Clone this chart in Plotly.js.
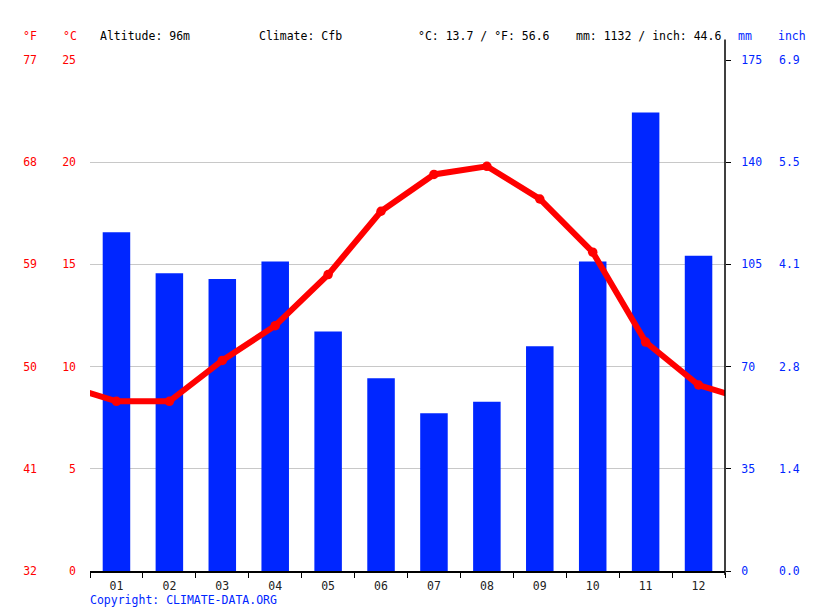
<!DOCTYPE html>
<html>
<head>
<meta charset="utf-8">
<script src="https://cdn.plot.ly/plotly-3.0.1.min.js"></script>
<style>
  body { margin: 0; background: #fff; }
  #chart { width: 815px; height: 611px; }
</style>
</head>
<body>
<div id="chart"></div>
<script>
// monthly climate data
let months = ["01", "02", "03", "04", "05", "06", "07", "08", "09", "10", "11", "12"];
let monthNums = [1, 2, 3, 4, 5, 6, 7, 8, 9, 10, 11, 12];
let rainMm = [116, 102, 100, 106, 82, 66, 54, 58, 77, 106, 157, 108];
let tempC = [8.3, 8.3, 10.3, 12.0, 14.5, 17.6, 19.4, 19.8, 18.2, 15.6, 11.2, 9.1];

let cTicks = [0, 5, 10, 15, 20, 25];
let fTicks = [32, 41, 50, 59, 68, 77];
let mmTicks = [0, 35, 70, 105, 140, 175];
let inchLabels = ["0.0", "1.4", "2.8", "4.1", "5.5", "6.9"];

let red = "#ff0000";
let blue = "#0026ff";
let mono = "DejaVu Sans Mono, monospace";

// wrap Dec before Jan and Jan after Dec so the line runs to both edges
let lineX = [0].concat(monthNums, [13]);
let lineY = [tempC[11]].concat(tempC, [tempC[0]]);

let bars = {
    x: monthNums,
    y: rainMm,
    type: "bar",
    width: 0.52,
    marker: {color: blue},
    xaxis: "x",
    yaxis: "y",
    hoverinfo: "skip"
};

let temp = {
    x: lineX,
    y: lineY,
    type: "scatter",
    mode: "lines+markers",
    line: {color: red, width: 6},
    marker: {color: red, size: 9.5},
    xaxis: "x",
    yaxis: "y2",
    cliponaxis: true,
    hoverinfo: "skip"
};

// dummy traces so the extra axes get drawn
let fDummy = {x: [1], y: [32], yaxis: "y3", xaxis: "x", mode: "markers", marker: {opacity: 0}, hoverinfo: "skip"};
let inDummy = {x: [1], y: [0], yaxis: "y4", xaxis: "x", mode: "markers", marker: {opacity: 0}, hoverinfo: "skip"};

let tickFont = {family: mono, size: 11.5};

let layout = {
    width: 815,
    height: 611,
    margin: {l: 90, r: 90, t: 60, b: 40},
    paper_bgcolor: "#fff",
    plot_bgcolor: "#fff",
    showlegend: false,
    xaxis: {
        range: [0.5, 12.5],
        tickmode: "array",
        tickvals: monthNums,
        ticktext: months,
        ticks: "",
        showgrid: false,
        zeroline: false,
        showline: true,
        linecolor: "#000",
        linewidth: 1.5,
        ticklabelstandoff: 4,
        tickfont: Object.assign({color: "#222"}, tickFont),
        minor: {tickmode: "linear", tick0: 0.5, dtick: 1, ticks: "outside", ticklen: 5, tickcolor: "#000", showgrid: false}
    },
    yaxis: {
        range: [0, 175],
        side: "right",
        tickmode: "array",
        tickvals: mmTicks,
        ticks: "outside",
        ticklen: 5,
        tickcolor: "#000",
        showgrid: true,
        gridcolor: "#c8c8c8",
        zeroline: false,
        showline: false,
        ticklabelstandoff: 8,
        tickfont: Object.assign({color: blue}, tickFont)
    },
    yaxis2: {
        range: [0, 25],
        overlaying: "y",
        side: "left",
        tickmode: "array",
        tickvals: cTicks,
        ticks: "",
        showgrid: false,
        zeroline: false,
        ticklabelstandoff: 13,
        tickfont: Object.assign({color: red}, tickFont)
    },
    yaxis3: {
        range: [32, 77],
        overlaying: "y",
        side: "left",
        anchor: "free",
        position: 0,
        tickmode: "array",
        tickvals: fTicks,
        ticks: "",
        showgrid: false,
        zeroline: false,
        ticklabelstandoff: 53,
        tickfont: Object.assign({color: red}, tickFont)
    },
    yaxis4: {
        range: [0, 175],
        overlaying: "y",
        side: "right",
        anchor: "free",
        position: 1,
        tickmode: "array",
        tickvals: mmTicks,
        ticktext: inchLabels,
        ticks: "",
        showgrid: false,
        zeroline: false,
        ticklabelstandoff: 53,
        tickfont: Object.assign({color: blue}, tickFont)
    },
    shapes: [
        {type: "line", xref: "paper", yref: "paper", x0: 1, x1: 1, y0: -0.008, y1: 1.04,
         line: {color: "#000", width: 1.5}}
    ],
    annotations: [
        {text: "°F", x: 30, y: 36},
        {text: "°C", x: 70, y: 36},
        {text: "Altitude: 96m", x: 98, y: 36, xanchor: "left", color: "#000"},
        {text: "Climate: Cfb", x: 257, y: 36, xanchor: "left", color: "#000"},
        {text: "°C: 13.7 / °F: 56.6", x: 416, y: 36, xanchor: "left", color: "#000"},
        {text: "mm: 1132 / inch: 44.6", x: 574, y: 36, xanchor: "left", color: "#000"},
        {text: "mm", x: 745, y: 36, color: blue},
        {text: "inch", x: 792, y: 36, color: blue},
        {text: "Copyright: CLIMATE-DATA.ORG", x: 88, y: 600, xanchor: "left", color: blue}
    ].map(function (a) {
        return {
            text: a.text,
            xref: "paper", yref: "paper",
            x: (a.x - 90) / 635,
            y: (571 - a.y) / 511,
            xanchor: a.xanchor || "center",
            yanchor: "middle",
            showarrow: false,
            font: {family: mono, size: 11.5, color: a.color || red}
        };
    })
};

Plotly.newPlot("chart", [bars, temp, fDummy, inDummy], layout, {displayModeBar: false, staticPlot: true});
</script>
</body>
</html>
